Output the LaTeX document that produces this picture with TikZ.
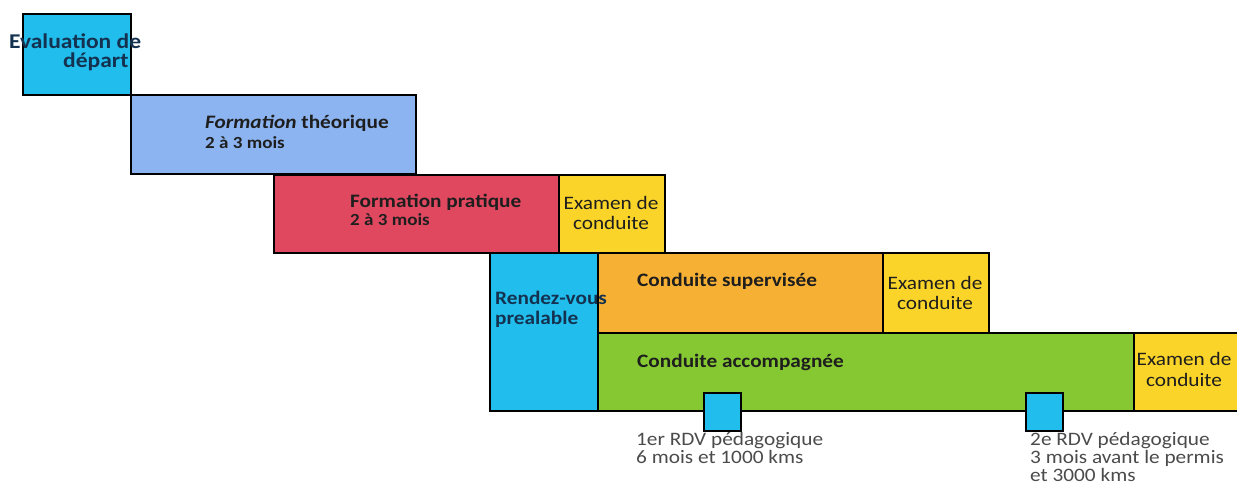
\documentclass[tikz,border=0pt]{standalone}
\usepackage{fontspec}
\setmainfont{Carlito}[FakeStretch=1.12]
\definecolor{cCyan}{RGB}{33,189,236}
\definecolor{cLblue}{RGB}{140,180,240}
\definecolor{cRed}{RGB}{224,72,96}
\definecolor{cYellow}{RGB}{250,212,40}
\definecolor{cOrange}{RGB}{246,176,52}
\definecolor{cGreen}{RGB}{134,200,50}
\definecolor{cText}{RGB}{30,30,30}
\definecolor{cNavy}{RGB}{20,50,80}
\definecolor{cGray}{RGB}{75,75,75}
\begin{document}
\begin{tikzpicture}[x=1pt,y=-1pt,
  box/.style={draw=black,line width=1.8pt,anchor=north west,inner sep=0pt},
  lbl/.style={anchor=base west,inner sep=0pt,text=cText,font=\fontsize{19}{19}\selectfont\bfseries},
  big/.style={anchor=base west,inner sep=0pt,text=cNavy,font=\fontsize{21}{21}\selectfont\bfseries},
  sub/.style={anchor=base west,inner sep=0pt,text=cText,font=\fontsize{17}{17}\selectfont\bfseries},
  exam/.style={anchor=base,inner sep=0pt,text=cText,font=\fontsize{19}{19}\selectfont},
  note/.style={anchor=base west,inner sep=0pt,text=cGray,font=\fontsize{19}{19}\selectfont}]
\useasboundingbox[fill=white] (0,0) rectangle (1237,486);
% boxes
\node[box,fill=cCyan,minimum width=108pt,minimum height=81pt] (eval) at (22,13) {};
\node[box,fill=cLblue,minimum width=285pt,minimum height=79pt] (theo) at (130,94) {};
\node[box,fill=cRed,minimum width=285pt,minimum height=78pt] (prat) at (273,174) {};
\node[box,fill=cYellow,minimum width=106pt,minimum height=78pt] (ex1) at (558,174) {};
\node[box,fill=cCyan,minimum width=108pt,minimum height=158pt] (rdv) at (489,252) {};
\node[box,fill=cOrange,minimum width=285pt,minimum height=80pt] (sup) at (597,252) {};
\node[box,fill=cYellow,minimum width=106pt,minimum height=80pt] (ex2) at (882,252) {};
\node[box,fill=cGreen,minimum width=536pt,minimum height=78pt] (acc) at (597,332) {};
\node[box,fill=cYellow,minimum width=120pt,minimum height=78pt] (ex3) at (1133,332) {};
\node[box,fill=cCyan,minimum width=37pt,minimum height=38pt] (p1) at (703,392) {};
\node[box,fill=cCyan,minimum width=37pt,minimum height=38pt] (p2) at (1025,392) {};
% texts
\node[big] (t1a) at (9,49) {Evaluation de};
\node[big] (t1b) at (63,68) {départ};
\node[lbl] (t2a) at (205,129) {\itshape Formation\/ \upshape théorique};
\node[sub] (t2b) at (205,149) {2 à 3 mois};
\node[lbl] (t3a) at (350,208) {Formation pratique};
\node[sub] (t3b) at (350,226) {2 à 3 mois};
\node[exam] (e1a) at (611,210) {Examen de};
\node[exam] (e1b) at (611,230) {conduite};
\node[lbl,text=cNavy] (t5a) at (495,305) {Rendez-vous};
\node[lbl,text=cNavy] (t5b) at (495,324) {prealable};
\node[lbl] (t6) at (637,287) {Conduite supervisée};
\node[exam] (e2a) at (935,290) {Examen de};
\node[exam] (e2b) at (935,310) {conduite};
\node[lbl] (t8) at (637,367) {Conduite accompagnée};
\node[exam] (e3a) at (1184,366) {Examen de};
\node[exam] (e3b) at (1184,386) {conduite};
\node[note] (n1a) at (636,445) {1er RDV pédagogique};
\node[note] (n1b) at (636,463) {6 mois et 1000 kms};
\node[note] (n2a) at (1030,445) {2e RDV pédagogique};
\node[note] (n2b) at (1030,463) {3 mois avant le permis};
\node[note] (n2c) at (1030,481) {et 3000 kms};
\end{tikzpicture}
\end{document}
